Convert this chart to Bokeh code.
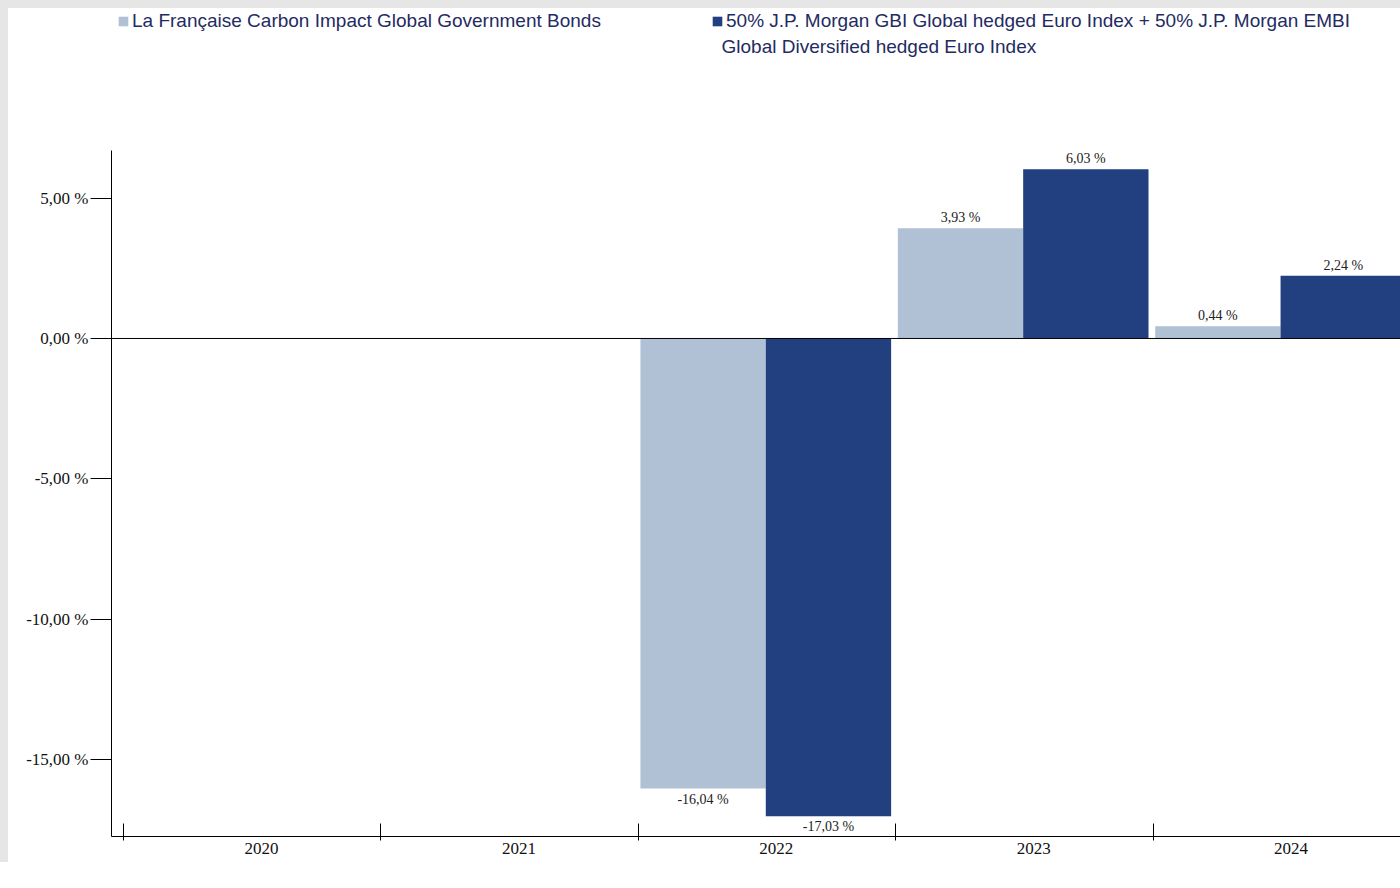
from bokeh.plotting import figure
from bokeh.models import (Range1d, LinearAxis, FixedTicker, Legend, LegendItem,
                          ColumnDataSource, Span, Label, Spacer)
from bokeh.layouts import column, row
from bokeh.embed import file_html
from bokeh.resources import INLINE
from bokeh.core.properties import value

# ---------------- data ----------------
years = ["2020", "2021", "2022", "2023", "2024"]
fund_values = [None, None, -16.04, 3.93, 0.44]
bench_values = [None, None, -17.03, 6.03, 2.24]
y_tick_values = [-15, -10, -5, 0, 5]
y_tick_labels = ["-15,00 %", "-10,00 %", "-5,00 %", "0,00 %", "5,00 %"]
fund_name_lines = ["La Française Carbon Impact Global Government Bonds"]
bench_name_lines = ["50% J.P. Morgan GBI Global hedged Euro Index + 50% J.P. Morgan EMBI",
                    "Global Diversified hedged Euro Index"]
colors = ["#b0c1d6", "#22407f"]

# ---------------- layout constants ----------------
BAR_W = 0.487
BAR_SHIFT = -0.041
TICK_SHIFT = -0.536
LEGEND_H = 142
PAGE_GRAY = "#e6e6e6"
LEGEND_TEXT = "#1f2b63"


def fmt(v):
    return f"{v:.2f} %".replace(".", ",")


def series_source(vals, side):
    xs, ys, labs = [], [], []
    for i, v in enumerate(vals):
        if v is None:
            continue
        xs.append(i + BAR_SHIFT + side * BAR_W / 2)
        ys.append(v)
        labs.append(fmt(v))
    return ColumnDataSource(dict(x=xs, top=ys, label=labs))


src_fund = series_source(fund_values, -1)
src_bench = series_source(bench_values, +1)

# ---------------- main chart ----------------
p = figure(width=1392, height=712,
           x_range=Range1d(-0.583, 4.425), y_range=Range1d(-17.75, 6.70),
           output_backend="svg", toolbar_location=None,
           x_axis_type=None, y_axis_type=None,
           min_border_left=103, min_border_right=0,
           min_border_top=0, min_border_bottom=26)
p.grid.visible = False
p.outline_line_color = None
p.background_fill_color = "white"
p.border_fill_color = "white"

r1 = p.vbar(x="x", top="top", bottom=0, width=BAR_W, source=src_fund,
            fill_color=colors[0], line_color=None)
r2 = p.vbar(x="x", top="top", bottom=0, width=BAR_W, source=src_bench,
            fill_color=colors[1], line_color=None)

p.add_layout(Span(location=0, dimension="width", line_color="black", line_width=1))

# value labels
for src in (src_fund, src_bench):
    d = src.data
    pos = ColumnDataSource(dict(x=[x for x, t in zip(d["x"], d["top"]) if t >= 0],
                                y=[t for t in d["top"] if t >= 0],
                                label=[l for l, t in zip(d["label"], d["top"]) if t >= 0]))
    neg = ColumnDataSource(dict(x=[x for x, t in zip(d["x"], d["top"]) if t < 0],
                                y=[t for t in d["top"] if t < 0],
                                label=[l for l, t in zip(d["label"], d["top"]) if t < 0]))
    p.text(x="x", y="y", text="label", source=pos, text_align="center",
           text_baseline="bottom", y_offset=-3, text_font=value("Liberation Serif"),
           text_font_size="14px", text_color="#222222")
    p.text(x="x", y="y", text="label", source=neg, text_align="center",
           text_baseline="top", y_offset=3, text_font=value("Liberation Serif"),
           text_font_size="14px", text_color="#222222")

# y axis
yaxis = LinearAxis(ticker=FixedTicker(ticks=y_tick_values, minor_ticks=[]),
                   major_label_overrides=dict(zip(y_tick_values, y_tick_labels)))
yaxis.axis_line_color = "black"
yaxis.major_tick_line_color = "black"
yaxis.major_tick_out = 21
yaxis.major_tick_in = 0
yaxis.minor_tick_line_color = None
yaxis.major_label_standoff = 2
yaxis.major_label_text_font = "Liberation Serif"
yaxis.major_label_text_font_size = "17px"
yaxis.major_label_text_color = "#111111"
p.add_layout(yaxis, "left")

# x axis: boundary ticks
tick_pos = [i + TICK_SHIFT for i in range(len(years))]
xticks = LinearAxis(ticker=FixedTicker(ticks=tick_pos, minor_ticks=[]),
                    major_label_overrides={t: "" for t in tick_pos})
xticks.axis_line_color = "black"
xticks.major_tick_line_color = "black"
xticks.major_tick_in = 13
xticks.major_tick_out = 4
xticks.minor_tick_line_color = None
xticks.major_label_text_font_size = "0px"
xticks.major_label_standoff = 0
p.add_layout(xticks, "below")

# x axis: year labels
xlabels = LinearAxis(ticker=FixedTicker(ticks=list(range(len(years))), minor_ticks=[]),
                     major_label_overrides={i: y for i, y in enumerate(years)})
xlabels.axis_line_color = None
xlabels.major_tick_line_color = None
xlabels.minor_tick_line_color = None
xlabels.major_label_standoff = -4
xlabels.major_label_text_font = "Liberation Serif"
xlabels.major_label_text_font_size = "17px"
xlabels.major_label_text_color = "#111111"
p.add_layout(xlabels, "below")

# ---------------- legend strip ----------------
lf = figure(width=1392, height=LEGEND_H, x_range=Range1d(0, 1), y_range=Range1d(0, 1),
            output_backend="svg", toolbar_location=None,
            x_axis_type=None, y_axis_type=None,
            min_border_left=0, min_border_right=0, min_border_top=0, min_border_bottom=0)
lf.grid.visible = False
lf.outline_line_color = None
lf.background_fill_alpha = 0
lf.border_fill_alpha = 0
# swatch renderers (their single bar lies fully outside the visible ranges)
swatch = ColumnDataSource(dict(x=[-10.0], top=[-5.0], bottom=[-6.0]))
g1 = lf.vbar(x="x", top="top", bottom="bottom", width=0.1, source=swatch,
             fill_color=colors[0], line_color=None)
g2 = lf.vbar(x="x", top="top", bottom="bottom", width=0.1, source=swatch,
             fill_color=colors[1], line_color=None)


def make_legend(item, loc):
    lg = Legend(items=[item], location=loc, orientation="horizontal")
    lg.border_line_color = None
    lg.background_fill_color = None
    lg.margin = 0
    lg.padding = 0
    lg.glyph_width = 12
    lg.glyph_height = 12
    lg.label_standoff = 3
    lg.label_text_font = "Liberation Sans"
    lg.label_text_font_size = "19px"
    lg.label_text_color = LEGEND_TEXT
    lg.label_height = 22
    return lg


lf.add_layout(make_legend(LegendItem(label=fund_name_lines[0], renderers=[g1]), (6, 118)))
lf.add_layout(make_legend(LegendItem(label=bench_name_lines[0], renderers=[g2]), (600, 118)))
lf.add_layout(Label(x=610, y=104, x_units="screen", y_units="screen",
                    text=bench_name_lines[1], text_baseline="middle", text_align="left",
                    text_font="Liberation Sans", text_font_size="19px",
                    text_color=LEGEND_TEXT))

inner = column(lf, p, spacing=0, styles={"background-color": "white"})
top_band = Spacer(width=1400, height=8, styles={"background-color": PAGE_GRAY})
left_strip = Spacer(width=8, height=LEGEND_H + 712, styles={"background-color": PAGE_GRAY})
layout = column(top_band, row(left_strip, inner, spacing=0), spacing=0)
open("out.html", "w").write(file_html(layout, INLINE))
